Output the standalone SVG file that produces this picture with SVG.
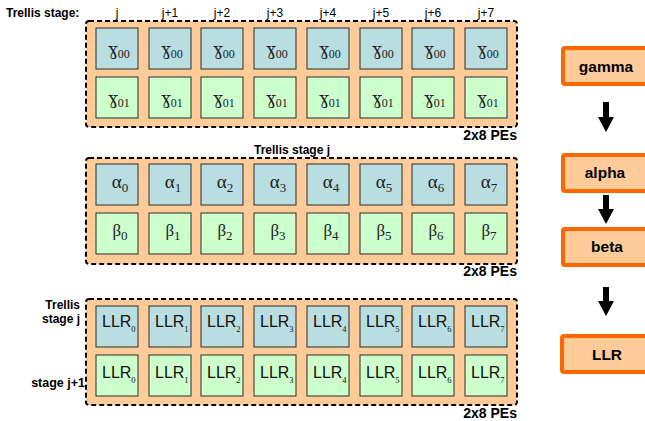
<svg xmlns="http://www.w3.org/2000/svg" width="645" height="421" viewBox="0 0 645 421">
<defs>
<style>
.bg{fill:#fff}
.stage{fill:#FFCC99;stroke:#000;stroke-width:2;stroke-dasharray:5 3}
.cb{fill:#B9DEE2;stroke:#2a2a2a;stroke-width:1}
.cg{fill:#CCFFCC;stroke:#2a2a2a;stroke-width:1}
.lbl{font-family:"Liberation Sans",Arial,sans-serif;font-size:12px;font-weight:bold;fill:#000}
.pes{font-family:"Liberation Sans",Arial,sans-serif;font-size:14px;font-weight:bold;fill:#000;text-anchor:end}
.col{font-family:"Liberation Sans",Arial,sans-serif;font-size:12px;fill:#000;text-anchor:middle}
.g{font-family:"DejaVu Serif","Liberation Serif",serif;font-size:16px;fill:#222;text-anchor:middle}
.gs{font-family:"Liberation Serif",serif;font-size:12px}
.a{font-family:"Liberation Serif","DejaVu Serif",serif;font-size:19px;fill:#222;text-anchor:middle}
.b{font-family:"Liberation Serif","DejaVu Serif",serif;font-size:17px;fill:#222;text-anchor:middle}
.as{font-size:13px}
.llr{font-family:"Liberation Sans",Arial,sans-serif;font-size:16px;fill:#111}
.ls{font-family:"Liberation Serif",serif;font-size:8.5px}
.ob{fill:#FFCC99;stroke:#FF6600;stroke-width:4}
.ot{font-family:"Liberation Sans",Arial,sans-serif;font-size:15.5px;font-weight:bold;fill:#000;text-anchor:middle}
.arr{stroke:#000;stroke-width:6;fill:none}
</style>
<marker id="head" viewBox="0 -8 15 16" refX="0" refY="0" markerWidth="15" markerHeight="16" markerUnits="userSpaceOnUse" orient="auto">
<path d="M0,-8 L15,0 L0,8 Z" fill="#000"/>
</marker>
</defs>
<rect class="bg" x="0" y="0" width="645" height="421"/>

<!-- labels -->
<text class="lbl" x="6" y="17">Trellis stage:</text>
<text class="col" x="117" y="17">j</text>
<text class="col" x="170" y="17">j+1</text>
<text class="col" x="222" y="17">j+2</text>
<text class="col" x="275" y="17">j+3</text>
<text class="col" x="328" y="17">j+4</text>
<text class="col" x="381" y="17">j+5</text>
<text class="col" x="433" y="17">j+6</text>
<text class="col" x="486" y="17">j+7</text>

<!-- gamma stage -->
<g id="stage-gamma">
<rect class="stage" x="86" y="21" width="431" height="106" rx="3"/>
<text class="pes" x="517" y="140">2x8 PEs</text>
</g>
<g id="g00-0"><rect class="cb" x="96" y="28" width="42" height="41"/><text class="g" x="119" y="55">ɣ<tspan class="gs" dy="3">00</tspan></text></g>
<g id="g00-1"><rect class="cb" x="149" y="28" width="42" height="41"/><text class="g" x="172" y="55">ɣ<tspan class="gs" dy="3">00</tspan></text></g>
<g id="g00-2"><rect class="cb" x="201" y="28" width="42" height="41"/><text class="g" x="224" y="55">ɣ<tspan class="gs" dy="3">00</tspan></text></g>
<g id="g00-3"><rect class="cb" x="254" y="28" width="42" height="41"/><text class="g" x="277" y="55">ɣ<tspan class="gs" dy="3">00</tspan></text></g>
<g id="g00-4"><rect class="cb" x="307" y="28" width="42" height="41"/><text class="g" x="330" y="55">ɣ<tspan class="gs" dy="3">00</tspan></text></g>
<g id="g00-5"><rect class="cb" x="360" y="28" width="42" height="41"/><text class="g" x="383" y="55">ɣ<tspan class="gs" dy="3">00</tspan></text></g>
<g id="g00-6"><rect class="cb" x="412" y="28" width="42" height="41"/><text class="g" x="435" y="55">ɣ<tspan class="gs" dy="3">00</tspan></text></g>
<g id="g00-7"><rect class="cb" x="465" y="28" width="42" height="41"/><text class="g" x="488" y="55">ɣ<tspan class="gs" dy="3">00</tspan></text></g>
<g id="g01-0"><rect class="cg" x="96" y="77" width="42" height="41"/><text class="g" x="119" y="104">ɣ<tspan class="gs" dy="3">01</tspan></text></g>
<g id="g01-1"><rect class="cg" x="149" y="77" width="42" height="41"/><text class="g" x="172" y="104">ɣ<tspan class="gs" dy="3">01</tspan></text></g>
<g id="g01-2"><rect class="cg" x="201" y="77" width="42" height="41"/><text class="g" x="224" y="104">ɣ<tspan class="gs" dy="3">01</tspan></text></g>
<g id="g01-3"><rect class="cg" x="254" y="77" width="42" height="41"/><text class="g" x="277" y="104">ɣ<tspan class="gs" dy="3">01</tspan></text></g>
<g id="g01-4"><rect class="cg" x="307" y="77" width="42" height="41"/><text class="g" x="330" y="104">ɣ<tspan class="gs" dy="3">01</tspan></text></g>
<g id="g01-5"><rect class="cg" x="360" y="77" width="42" height="41"/><text class="g" x="383" y="104">ɣ<tspan class="gs" dy="3">01</tspan></text></g>
<g id="g01-6"><rect class="cg" x="412" y="77" width="42" height="41"/><text class="g" x="435" y="104">ɣ<tspan class="gs" dy="3">01</tspan></text></g>
<g id="g01-7"><rect class="cg" x="465" y="77" width="42" height="41"/><text class="g" x="488" y="104">ɣ<tspan class="gs" dy="3">01</tspan></text></g>

<!-- alpha/beta stage -->
<g id="stage-ab">
<rect class="stage" x="86" y="158" width="431" height="106" rx="3"/>
<text class="lbl" x="292" y="154" text-anchor="middle">Trellis stage j</text>
<text class="pes" x="517" y="276">2x8 PEs</text>
</g>
<g id="a0"><rect class="cb" x="96" y="164" width="42" height="41"/><text class="a" x="120" y="188">α<tspan class="as" dy="4">0</tspan></text></g>
<g id="a1"><rect class="cb" x="149" y="164" width="42" height="41"/><text class="a" x="173" y="188">α<tspan class="as" dy="4">1</tspan></text></g>
<g id="a2"><rect class="cb" x="201" y="164" width="42" height="41"/><text class="a" x="225" y="188">α<tspan class="as" dy="4">2</tspan></text></g>
<g id="a3"><rect class="cb" x="254" y="164" width="42" height="41"/><text class="a" x="278" y="188">α<tspan class="as" dy="4">3</tspan></text></g>
<g id="a4"><rect class="cb" x="307" y="164" width="42" height="41"/><text class="a" x="331" y="188">α<tspan class="as" dy="4">4</tspan></text></g>
<g id="a5"><rect class="cb" x="360" y="164" width="42" height="41"/><text class="a" x="384" y="188">α<tspan class="as" dy="4">5</tspan></text></g>
<g id="a6"><rect class="cb" x="412" y="164" width="42" height="41"/><text class="a" x="436" y="188">α<tspan class="as" dy="4">6</tspan></text></g>
<g id="a7"><rect class="cb" x="465" y="164" width="42" height="41"/><text class="a" x="489" y="188">α<tspan class="as" dy="4">7</tspan></text></g>
<g id="b0"><rect class="cg" x="96" y="213" width="42" height="41"/><text class="b" x="120" y="236">β<tspan class="as" dy="4">0</tspan></text></g>
<g id="b1"><rect class="cg" x="149" y="213" width="42" height="41"/><text class="b" x="173" y="236">β<tspan class="as" dy="4">1</tspan></text></g>
<g id="b2"><rect class="cg" x="201" y="213" width="42" height="41"/><text class="b" x="225" y="236">β<tspan class="as" dy="4">2</tspan></text></g>
<g id="b3"><rect class="cg" x="254" y="213" width="42" height="41"/><text class="b" x="278" y="236">β<tspan class="as" dy="4">3</tspan></text></g>
<g id="b4"><rect class="cg" x="307" y="213" width="42" height="41"/><text class="b" x="331" y="236">β<tspan class="as" dy="4">4</tspan></text></g>
<g id="b5"><rect class="cg" x="360" y="213" width="42" height="41"/><text class="b" x="384" y="236">β<tspan class="as" dy="4">5</tspan></text></g>
<g id="b6"><rect class="cg" x="412" y="213" width="42" height="41"/><text class="b" x="436" y="236">β<tspan class="as" dy="4">6</tspan></text></g>
<g id="b7"><rect class="cg" x="465" y="213" width="42" height="41"/><text class="b" x="489" y="236">β<tspan class="as" dy="4">7</tspan></text></g>

<!-- LLR stage -->
<g id="stage-llr">
<rect class="stage" x="86" y="299" width="431" height="106" rx="3"/>
<text class="lbl" x="80" y="309" text-anchor="end">Trellis</text>
<text class="lbl" x="80" y="323" text-anchor="end">stage j</text>
<text class="lbl" x="85" y="387" text-anchor="end" style="font-size:12.5px">stage j+1</text>
<text class="pes" x="517" y="418">2x8 PEs</text>
</g>
<g id="l0"><rect class="cb" x="96" y="306" width="42" height="41"/><text class="llr" x="102" y="327">LLR<tspan class="ls" dy="5">0</tspan></text></g>
<g id="l1"><rect class="cb" x="149" y="306" width="42" height="41"/><text class="llr" x="155" y="327">LLR<tspan class="ls" dy="5">1</tspan></text></g>
<g id="l2"><rect class="cb" x="201" y="306" width="42" height="41"/><text class="llr" x="207" y="327">LLR<tspan class="ls" dy="5">2</tspan></text></g>
<g id="l3"><rect class="cb" x="254" y="306" width="42" height="41"/><text class="llr" x="260" y="327">LLR<tspan class="ls" dy="5">3</tspan></text></g>
<g id="l4"><rect class="cb" x="307" y="306" width="42" height="41"/><text class="llr" x="313" y="327">LLR<tspan class="ls" dy="5">4</tspan></text></g>
<g id="l5"><rect class="cb" x="360" y="306" width="42" height="41"/><text class="llr" x="366" y="327">LLR<tspan class="ls" dy="5">5</tspan></text></g>
<g id="l6"><rect class="cb" x="412" y="306" width="42" height="41"/><text class="llr" x="418" y="327">LLR<tspan class="ls" dy="5">6</tspan></text></g>
<g id="l7"><rect class="cb" x="465" y="306" width="42" height="41"/><text class="llr" x="471" y="327">LLR<tspan class="ls" dy="5">7</tspan></text></g>
<g id="m0"><rect class="cg" x="96" y="355" width="42" height="41"/><text class="llr" x="102" y="378">LLR<tspan class="ls" dy="5">0</tspan></text></g>
<g id="m1"><rect class="cg" x="149" y="355" width="42" height="41"/><text class="llr" x="155" y="378">LLR<tspan class="ls" dy="5">1</tspan></text></g>
<g id="m2"><rect class="cg" x="201" y="355" width="42" height="41"/><text class="llr" x="207" y="378">LLR<tspan class="ls" dy="5">2</tspan></text></g>
<g id="m3"><rect class="cg" x="254" y="355" width="42" height="41"/><text class="llr" x="260" y="378">LLR<tspan class="ls" dy="5">3</tspan></text></g>
<g id="m4"><rect class="cg" x="307" y="355" width="42" height="41"/><text class="llr" x="313" y="378">LLR<tspan class="ls" dy="5">4</tspan></text></g>
<g id="m5"><rect class="cg" x="360" y="355" width="42" height="41"/><text class="llr" x="366" y="378">LLR<tspan class="ls" dy="5">5</tspan></text></g>
<g id="m6"><rect class="cg" x="412" y="355" width="42" height="41"/><text class="llr" x="418" y="378">LLR<tspan class="ls" dy="5">6</tspan></text></g>
<g id="m7"><rect class="cg" x="465" y="355" width="42" height="41"/><text class="llr" x="471" y="378">LLR<tspan class="ls" dy="5">7</tspan></text></g>

<!-- right flow -->
<g id="gamma"><rect class="ob" x="563" y="48" width="88" height="36" rx="2"/><text class="ot" x="606" y="72">gamma</text></g>
<g id="alpha"><rect class="ob" x="563" y="155" width="88" height="36" rx="2"/><text class="ot" x="605" y="178">alpha</text></g>
<g id="beta"><rect class="ob" x="563" y="229" width="88" height="36" rx="2"/><text class="ot" x="607" y="252">beta</text></g>
<g id="llr"><rect class="ob" x="562" y="336" width="88" height="36" rx="2"/><text class="ot" x="607" y="360">LLR</text></g>

<g id="connectors">
<line class="arr" x1="606" y1="102" x2="606" y2="117" marker-end="url(#head)"/>
<line class="arr" x1="606" y1="195" x2="606" y2="209" marker-end="url(#head)"/>
<line class="arr" x1="606" y1="287" x2="606" y2="301" marker-end="url(#head)"/>
</g>
</svg>
